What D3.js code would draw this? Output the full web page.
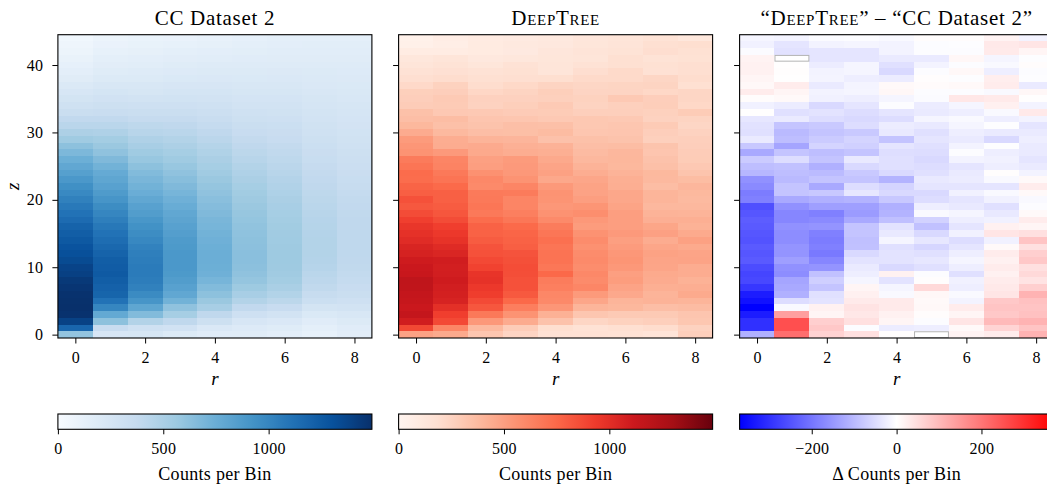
<!DOCTYPE html>
<html>
<head>
<meta charset="utf-8">
<script src="https://cdn.jsdelivr.net/npm/d3@7"></script>
<style>
  html, body { margin: 0; padding: 0; background: #fff; }
  svg { display: block; font-family: "Liberation Serif", "Times New Roman", serif; }
</style>
</head>
<body>
<svg id="chart" width="1047" height="485"></svg>
<script>
// Bin centres
const rBins = [0, 1, 2, 3, 4, 5, 6, 7, 8];
const zBins = [0, 1, 2, 3, 4, 5, 6, 7, 8, 9, 10, 11, 12, 13, 14, 15, 16, 17, 18, 19, 20, 21,
  22, 23, 24, 25, 26, 27, 28, 29, 30, 31, 32, 33, 34, 35, 36, 37, 38, 39, 40, 41, 42, 43, 44];

// Tick labels
const rTicks = [0, 2, 4, 6, 8];
const zTicks = [0, 10, 20, 30, 40];
const countTicks = [0, 500, 1000];
const deltaTicks = [-200, 0, 200];

// Counts per (z, r) bin, one row per z bin, columns r = 0..8
const ccCounts = [
  [600, 240, 250, 200, 170, 175, 150, 120, 160],
  [1180, 360, 300, 290, 220, 195, 180, 140, 170],
  [1390, 620, 460, 400, 320, 240, 220, 170, 200],
  [1480, 780, 660, 520, 400, 310, 280, 215, 230],
  [1490, 1000, 800, 610, 510, 390, 360, 270, 280],
  [1485, 1110, 910, 720, 570, 460, 420, 330, 310],
  [1480, 1190, 970, 790, 620, 510, 465, 365, 340],
  [1460, 1210, 1030, 830, 660, 560, 505, 395, 360],
  [1440, 1230, 1050, 860, 700, 590, 530, 415, 375],
  [1400, 1250, 1060, 880, 730, 610, 545, 430, 385],
  [1380, 1240, 1060, 890, 740, 625, 555, 445, 395],
  [1340, 1230, 1050, 890, 745, 630, 560, 455, 400],
  [1310, 1200, 1040, 890, 745, 630, 560, 460, 405],
  [1290, 1170, 1020, 880, 740, 625, 555, 460, 405],
  [1260, 1140, 990, 870, 730, 620, 550, 460, 405],
  [1230, 1110, 960, 850, 720, 615, 545, 455, 405],
  [1200, 1080, 930, 830, 700, 605, 540, 450, 400],
  [1150, 1040, 900, 810, 690, 595, 530, 445, 400],
  [1110, 1000, 860, 790, 670, 585, 520, 440, 395],
  [1070, 960, 830, 760, 650, 570, 510, 430, 390],
  [1030, 910, 790, 730, 630, 555, 500, 420, 385],
  [980, 870, 750, 700, 610, 540, 485, 410, 375],
  [940, 830, 720, 670, 590, 520, 470, 400, 365],
  [890, 800, 690, 640, 570, 500, 455, 390, 355],
  [840, 770, 660, 610, 545, 480, 440, 380, 345],
  [790, 720, 620, 580, 520, 460, 425, 370, 335],
  [740, 670, 580, 550, 500, 440, 410, 355, 325],
  [680, 610, 550, 520, 475, 420, 395, 345, 315],
  [620, 570, 510, 490, 450, 400, 380, 330, 305],
  [550, 530, 480, 460, 425, 380, 360, 320, 295],
  [490, 480, 440, 430, 400, 360, 345, 305, 285],
  [430, 430, 410, 400, 375, 340, 330, 295, 275],
  [390, 390, 370, 370, 350, 320, 310, 280, 265],
  [340, 350, 340, 340, 325, 300, 295, 270, 255],
  [305, 320, 310, 310, 300, 280, 280, 255, 245],
  [270, 290, 280, 285, 280, 265, 265, 245, 235],
  [240, 260, 250, 260, 260, 250, 250, 235, 225],
  [210, 230, 230, 240, 240, 230, 235, 220, 215],
  [175, 200, 200, 215, 220, 215, 220, 210, 205],
  [150, 180, 185, 195, 200, 200, 205, 200, 195],
  [125, 160, 165, 180, 185, 185, 190, 185, 185],
  [105, 140, 150, 160, 165, 170, 175, 175, 175],
  [85, 120, 130, 140, 150, 155, 165, 165, 165],
  [65, 100, 110, 120, 130, 140, 150, 155, 155],
  [50, 85, 95, 100, 115, 125, 140, 145, 145]
];

const deepTreeCounts = [
  [485, 450, 315, 245, 173, 175, 168, 148, 270],
  [880, 615, 380, 285, 192, 170, 188, 202, 255],
  [1090, 875, 530, 445, 335, 235, 258, 270, 310],
  [1150, 920, 675, 555, 420, 315, 295, 295, 320],
  [1120, 992, 820, 650, 540, 400, 388, 355, 365],
  [1140, 1060, 870, 750, 600, 468, 402, 410, 400],
  [1150, 1075, 925, 812, 612, 522, 457, 403, 450],
  [1170, 1085, 945, 845, 645, 615, 480, 427, 430],
  [1175, 1100, 980, 845, 660, 593, 510, 443, 415],
  [1130, 1085, 970, 855, 750, 605, 500, 450, 440],
  [1120, 1080, 905, 860, 685, 580, 530, 473, 440],
  [1100, 1090, 875, 850, 705, 595, 545, 475, 480],
  [1065, 1045, 845, 835, 705, 585, 535, 488, 475],
  [1050, 1015, 835, 790, 695, 565, 517, 468, 450],
  [1010, 975, 800, 778, 715, 585, 500, 440, 490],
  [985, 945, 775, 765, 688, 560, 525, 493, 450],
  [960, 920, 775, 745, 660, 515, 502, 470, 415],
  [915, 865, 730, 685, 598, 530, 505, 425, 428],
  [865, 825, 675, 645, 560, 577, 505, 408, 403],
  [815, 800, 690, 620, 535, 545, 478, 385, 385],
  [845, 785, 675, 620, 550, 505, 462, 400, 377],
  [790, 785, 670, 665, 555, 485, 465, 402, 383],
  [770, 745, 595, 620, 528, 482, 432, 362, 393],
  [730, 700, 605, 555, 460, 468, 427, 382, 363],
  [735, 675, 562, 532, 490, 435, 410, 383, 327],
  [695, 630, 505, 525, 475, 410, 387, 345, 305],
  [665, 620, 495, 518, 455, 385, 392, 335, 287],
  [555, 525, 455, 435, 427, 370, 390, 320, 285],
  [540, 440, 448, 422, 412, 355, 362, 327, 275],
  [520, 435, 405, 398, 340, 342, 330, 265, 270],
  [445, 380, 355, 352, 368, 315, 320, 275, 255],
  [388, 345, 332, 350, 347, 308, 316, 292, 237],
  [355, 360, 320, 315, 300, 306, 302, 255, 247],
  [342, 305, 300, 290, 287, 270, 270, 262, 287],
  [285, 292, 255, 272, 295, 252, 266, 277, 227],
  [275, 298, 260, 260, 266, 259, 300, 275, 237],
  [268, 275, 232, 246, 272, 245, 245, 227, 237],
  [220, 258, 200, 224, 248, 236, 243, 248, 185],
  [190, 202, 184, 190, 192, 218, 217, 235, 202],
  [170, 183, 167, 181, 145, 195, 215, 175, 190],
  [145, 162, 137, 166, 140, 167, 185, 177, 190],
  [123, 140, 112, 122, 135, 140, 187, 161, 172],
  [79, 78, 92, 102, 132, 150, 160, 195, 180],
  [45, 62, 92, 106, 112, 136, 147, 187, 193],
  [35, 67, 89, 95, 107, 130, 145, 163, 127]
];

// Difference map: DeepTree minus CC Dataset 2
const deltaCounts = deepTreeCounts.map((row, zi) => row.map((v, ri) => v - ccCounts[zi][ri]));

// ---- colour maps (piecewise-linear in RGB, ColorBrewer anchors) ----
const bluesStops = ["#f7fbff", "#deebf7", "#c6dbef", "#9ecae1", "#6baed6", "#4292c6", "#2171b5", "#08519c", "#08306b"];
const redsStops  = ["#fff5f0", "#fee0d2", "#fcbba1", "#fc9272", "#fb6a4a", "#ef3b2c", "#cb181d", "#a50f15", "#67000d"];

const countMax = Math.max(d3.max(ccCounts.flat()), d3.max(deepTreeCounts.flat()));
const deltaMax = d3.max(deltaCounts.flat(), Math.abs);

function sequential(stops, vmax) {
  return d3.scaleLinear()
    .domain(stops.map((_, i) => vmax * i / (stops.length - 1)))
    .range(stops)
    .interpolate(d3.interpolateRgb)
    .clamp(true);
}
const bluesColor = sequential(bluesStops, countMax);
const redsColor  = sequential(redsStops, countMax);
const bwrColor = d3.scaleLinear()
  .domain([-deltaMax, 0, deltaMax])
  .range(["#0000ff", "#ffffff", "#ff0000"])
  .interpolate(d3.interpolateRgb)
  .clamp(true);

// ---- layout ----
const svg = d3.select("#chart");
const panelW = 314, panelH = 303.3, panelTop = 34.7;
const panelLeft = [57.9, 398.6, 739.6];
const cbTop = 414, cbH = 15.3;
const fontMain = '"Liberation Serif", "Times New Roman", serif';

const x = d3.scaleLinear().domain([rBins[0] - 0.5, rBins[rBins.length - 1] + 0.5]).range([0, panelW]);
const y = d3.scaleLinear().domain([zBins[0] - 0.5, zBins[zBins.length - 1] + 0.5]).range([panelH, 0]);

const panels = [
  { values: ccCounts, color: bluesColor, cbDomain: [0, countMax], cbTicks: countTicks,
    cbLabel: "Counts per Bin", title: [{ t: "CC Dataset 2" }], yLabels: true },
  { values: deepTreeCounts, color: redsColor, cbDomain: [0, countMax], cbTicks: countTicks,
    cbLabel: "Counts per Bin", title: [{ t: "DeepTree", sc: true }], yLabels: false },
  { values: deltaCounts, color: bwrColor, cbDomain: [-deltaMax, deltaMax], cbTicks: deltaTicks,
    cbLabel: "\u0394 Counts per Bin",
    title: [{ t: "\u201C" }, { t: "DeepTree", sc: true }, { t: "\u201D \u2013 \u201CCC Dataset 2\u201D" }],
    yLabels: false, markZero: true }
];

const fmt = d => (d < 0 ? "\u2212" + Math.abs(d) : String(d));

function styleAxis(g, size) {
  g.select(".domain").remove();
  g.attr("font-family", null).attr("font-size", null);
  g.selectAll(".tick line").attr("stroke", "#000").attr("stroke-width", 1);
  g.selectAll(".tick text")
    .attr("fill", "#000")
    .style("font-family", fontMain)
    .style("font-size", size + "px")
    .style("letter-spacing", "0.3px");
}

panels.forEach((p, pi) => {
  const left = panelLeft[pi];
  const g = svg.append("g").attr("transform", `translate(${left},${panelTop})`);

  // cells
  const cells = [];
  zBins.forEach((z, zi) => rBins.forEach((r, ri) => cells.push({ r, z, v: p.values[zi][ri] })));
  g.append("g").selectAll("rect").data(cells).join("rect")
    .attr("x", d => x(d.r - 0.5))
    .attr("y", d => y(d.z + 0.5))
    .attr("width", d => x(d.r + 0.5) - x(d.r - 0.5))
    .attr("height", d => y(d.z - 0.5) - y(d.z + 0.5))
    .attr("fill", d => p.color(d.v))
    .attr("shape-rendering", "crispEdges");

  // bins with exactly zero difference get a thin outline
  if (p.markZero) {
    g.append("g").selectAll("rect").data(cells.filter(d => d.v === 0)).join("rect")
      .attr("x", d => x(d.r - 0.5) + 0.5)
      .attr("y", d => y(d.z + 0.5) + 0.5)
      .attr("width", d => x(d.r + 0.5) - x(d.r - 0.5) - 1)
      .attr("height", d => y(d.z - 0.5) - y(d.z + 0.5) - 1)
      .attr("fill", "none")
      .attr("stroke", "#b4b4b4")
      .attr("stroke-width", 1);
  }

  // axes
  const xa = g.append("g").attr("transform", `translate(0,${panelH})`)
    .call(d3.axisBottom(x).tickValues(rTicks).tickSize(5.5).tickPadding(8.5));
  styleAxis(xa, 16);

  const ya = g.append("g")
    .call(d3.axisLeft(y).tickValues(zTicks).tickSize(5.5).tickPadding(9)
      .tickFormat(p.yLabels ? d3.format("d") : () => ""));
  styleAxis(ya, 16);

  // frame
  g.append("rect").attr("x", 0).attr("y", 0).attr("width", panelW).attr("height", panelH)
    .attr("fill", "none").attr("stroke", "#000").attr("stroke-width", 1.1);

  // title
  const title = svg.append("text")
    .attr("x", left + panelW / 2).attr("y", 24.5)
    .attr("text-anchor", "middle")
    .style("font-family", fontMain).style("font-size", "21px").style("letter-spacing", "0.7px")
    .attr("fill", "#000");
  p.title.forEach(part => {
    const ts = title.append("tspan").text(part.t);
    if (part.sc) ts.style("font-variant", "small-caps");
  });

  // x label
  svg.append("text")
    .attr("x", left + panelW / 2).attr("y", 385)
    .attr("text-anchor", "middle")
    .style("font-family", fontMain).style("font-size", "19px").style("font-style", "italic")
    .attr("fill", "#000").text("r");

  // colour bar
  const gradId = "cbgrad" + pi;
  const grad = svg.append("defs").append("linearGradient").attr("id", gradId)
    .attr("x1", "0%").attr("x2", "100%").attr("y1", "0%").attr("y2", "0%");
  const nStops = 64;
  for (let i = 0; i <= nStops; i++) {
    const t = i / nStops;
    const v = p.cbDomain[0] + t * (p.cbDomain[1] - p.cbDomain[0]);
    grad.append("stop").attr("offset", (t * 100) + "%").attr("stop-color", p.color(v));
  }
  const cb = svg.append("g").attr("transform", `translate(${left},${cbTop})`);
  cb.append("rect").attr("width", panelW).attr("height", cbH).attr("fill", `url(#${gradId})`);
  cb.append("rect").attr("width", panelW).attr("height", cbH)
    .attr("fill", "none").attr("stroke", "#000").attr("stroke-width", 1.1);
  const cbScale = d3.scaleLinear().domain(p.cbDomain).range([0, panelW]);
  const cba = cb.append("g").attr("transform", `translate(0,${cbH})`)
    .call(d3.axisBottom(cbScale).tickValues(p.cbTicks).tickSize(5).tickPadding(8.5).tickFormat(fmt));
  styleAxis(cba, 16);

  svg.append("text")
    .attr("x", left + panelW / 2).attr("y", 479.5)
    .attr("text-anchor", "middle")
    .style("font-family", fontMain).style("font-size", "18px").style("letter-spacing", "0.3px")
    .attr("fill", "#000").text(p.cbLabel);
});

// y label
svg.append("text")
  .attr("transform", `translate(18.5,${panelTop + panelH / 2}) rotate(-90)`)
  .attr("text-anchor", "middle")
  .style("font-family", fontMain).style("font-size", "19px").style("font-style", "italic")
  .attr("fill", "#000").text("z");
</script>
</body>
</html>
